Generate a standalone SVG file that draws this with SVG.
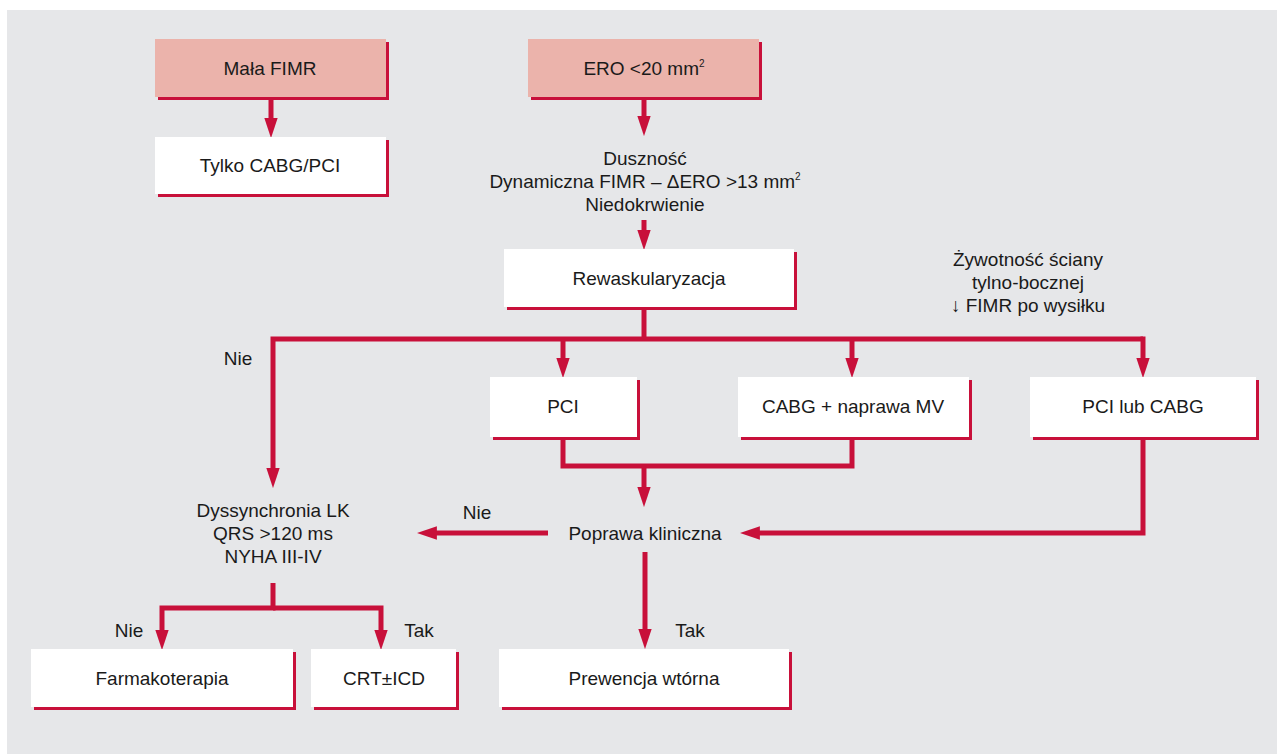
<svg xmlns="http://www.w3.org/2000/svg" width="1277" height="754" viewBox="0 0 1277 754">
<defs>
<style>
.bg{fill:#e6e7e9}
.sh{fill:#c8103a}
.wb{fill:#ffffff}
.pb{fill:#ebb3ab}
text{font-family:"Liberation Sans",Arial,sans-serif;font-size:19px;fill:#1a1a1a;text-anchor:middle}
.sup{font-size:10px}
.ln{fill:none;stroke:#c8103a;stroke-width:5;stroke-linejoin:miter}
.ah{fill:#c8103a}
</style>
<marker id="arr" markerUnits="userSpaceOnUse" markerWidth="20" markerHeight="14" viewBox="0 0 18 12" refX="8" refY="6" orient="auto">
<path class="ah" d="M0,0 L18,6 L0,12 z"/>
</marker>
</defs>
<rect width="1277" height="754" fill="#ffffff"/>
<rect class="bg" x="7" y="10" width="1270" height="744"/>

<g id="connectors">
<path class="ln" d="M271,97 V127" marker-end="url(#arr)"/>
<path class="ln" d="M644,97 V125" marker-end="url(#arr)"/>
<path class="ln" d="M644,220 V239" marker-end="url(#arr)"/>
<path class="ln" d="M644,307 V339"/>
<path class="ln" d="M1143,339 H273 V477" marker-end="url(#arr)"/>
<path class="ln" d="M1143,336.5 V367" marker-end="url(#arr)"/>
<path class="ln" d="M563,339 V367" marker-end="url(#arr)"/>
<path class="ln" d="M852,339 V367" marker-end="url(#arr)"/>
<path class="ln" d="M563,437 V466 H852 V437"/>
<path class="ln" d="M644,466 V496" marker-end="url(#arr)"/>
<path class="ln" d="M1143,437 V533 H751" marker-end="url(#arr)"/>
<path class="ln" d="M548,533 H428" marker-end="url(#arr)"/>
<path class="ln" d="M645,552 V638" marker-end="url(#arr)"/>
<path class="ln" d="M273,583 V608 H162 V639" marker-end="url(#arr)"/>
<path class="ln" d="M273,608 H381 V639" marker-end="url(#arr)"/>
</g>

<g id="mala-fimr">
<rect class="sh" x="158" y="42" width="231" height="58"/>
<rect class="pb" x="155" y="39" width="231" height="58"/>
<text x="270" y="75">Mała FIMR</text>
</g>
<g id="tylko">
<rect class="sh" x="158" y="140" width="231" height="57"/>
<rect class="wb" x="155" y="137" width="231" height="57"/>
<text x="270" y="172">Tylko CABG/PCI</text>
</g>
<g id="ero">
<rect class="sh" x="531" y="42" width="231" height="58"/>
<rect class="pb" x="528" y="39" width="231" height="58"/>
<text x="644" y="75">ERO &lt;20 mm<tspan class="sup" dy="-8">2</tspan></text>
</g>
<g id="dusznosc">
<text x="645" y="165">Duszność</text>
<text x="645" y="188">Dynamiczna FIMR – ΔERO &gt;13 mm<tspan class="sup" dy="-8">2</tspan></text>
<text x="645" y="211">Niedokrwienie</text>
</g>
<g id="rewask">
<rect class="sh" x="507" y="252" width="290" height="58"/>
<rect class="wb" x="504" y="249" width="290" height="58"/>
<text x="649" y="285">Rewaskularyzacja</text>
</g>
<g id="zywotnosc">
<text x="1028" y="266">Żywotność ściany</text>
<text x="1028" y="289">tylno-bocznej</text>
<text x="1028" y="312">↓ FIMR po wysiłku</text>
</g>
<g id="pci">
<rect class="sh" x="493" y="380" width="147" height="60"/>
<rect class="wb" x="490" y="377" width="147" height="60"/>
<text x="563" y="413">PCI</text>
</g>
<g id="cabg-mv">
<rect class="sh" x="741" y="380" width="231" height="60"/>
<rect class="wb" x="738" y="377" width="231" height="60"/>
<text x="853" y="413">CABG + naprawa MV</text>
</g>
<g id="pci-lub-cabg">
<rect class="sh" x="1033" y="380" width="226" height="60"/>
<rect class="wb" x="1030" y="377" width="226" height="60"/>
<text x="1143" y="413">PCI lub CABG</text>
</g>
<g id="dyssynchronia">
<text x="273" y="517">Dyssynchronia LK</text>
<text x="273" y="540">QRS &gt;120 ms</text>
<text x="273" y="563">NYHA III-IV</text>
</g>
<g id="poprawa">
<text x="645" y="540">Poprawa kliniczna</text>
</g>
<g id="labels">
<text x="238" y="365">Nie</text>
<text x="477" y="519">Nie</text>
<text x="129" y="637">Nie</text>
<text x="419" y="637">Tak</text>
<text x="690" y="637">Tak</text>
</g>
<g id="farmakoterapia">
<rect class="sh" x="34" y="652" width="262" height="58"/>
<rect class="wb" x="31" y="649" width="262" height="58"/>
<text x="162" y="685">Farmakoterapia</text>
</g>
<g id="crt-icd">
<rect class="sh" x="314" y="652" width="145" height="58"/>
<rect class="wb" x="311" y="649" width="145" height="58"/>
<text x="384" y="685">CRT±ICD</text>
</g>
<g id="prewencja">
<rect class="sh" x="502" y="652" width="290" height="58"/>
<rect class="wb" x="499" y="649" width="290" height="58"/>
<text x="644" y="685">Prewencja wtórna</text>
</g>
</svg>
